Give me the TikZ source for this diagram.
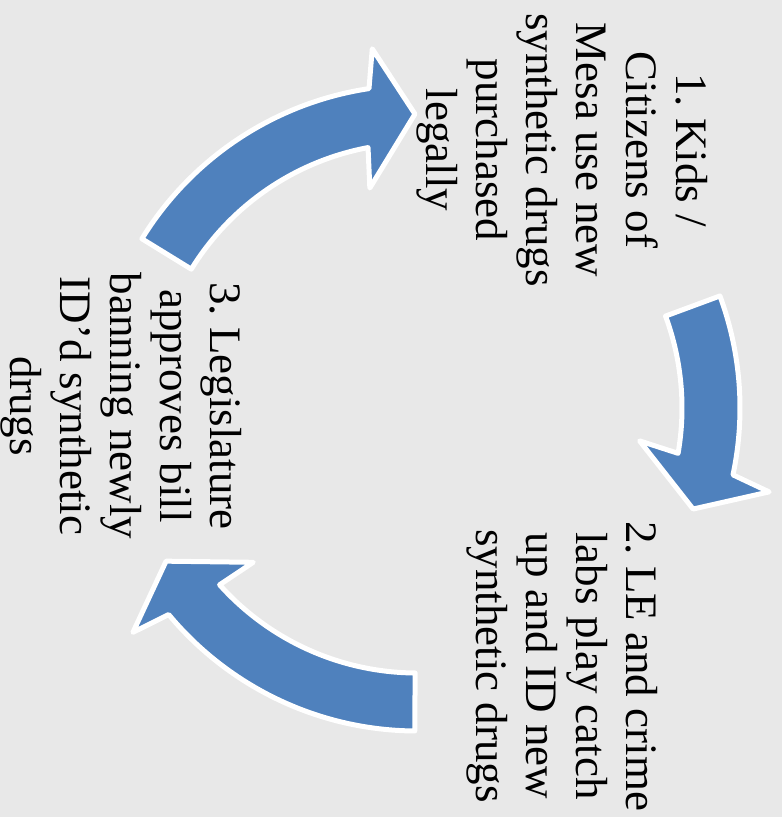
\documentclass[tikz,border=0pt]{standalone}
\usepackage{fontspec}
\setmainfont{Liberation Serif}
\usepackage{xcolor}
\usepackage{tikz}
\usetikzlibrary{calc}
\definecolor{cyclebg}{RGB}{232,232,232}
\definecolor{cycleblue}{RGB}{79,129,189}
\tikzset{
  cyclearr/.style={fill=cycleblue,draw=white,line width=5pt,line join=round},
  cyclelab/.style={rotate=-90,align=center,inner sep=0pt,anchor=north,
    font=\fontsize{45}{50}\selectfont\frenchspacing}
}
% tail angle, neck angle, tip angle (round the cycle centre)
\newcommand\cyclearrow[3]{%
  \filldraw[cyclearr] (#1:323) arc[start angle=#1,end angle=#2-1.05,radius=323]
    -- (#2-2.5:362) -- (#3:294) -- (#2+2.5:225) -- (#2+1.05:265)
    arc[start angle=#2+1.05,end angle=#1,radius=265] -- cycle;}

\begin{document}
\begin{tikzpicture}[x=1pt,y=1pt]
  \useasboundingbox (0,0) rectangle (782,-817);
  \fill[cyclebg] (0,0) rectangle (782,-817);
  \coordinate (ctr) at (417,-408);
  \begin{scope}[shift={(ctr)}]
    \cyclearrow{148.4}{99.6}{90.4}
    \cyclearrow{20.3}{-10.9}{-20.1}
    \cyclearrow{269.6}{220.8}{211.4}
  \end{scope}
  \node[cyclelab] (kids) at (708,-150) {1. Kids /\\Citizens of\\Mesa use new\\synthetic drugs\\purchased\\legally};
  \node[cyclelab] (labs) at (658,-666) {2. LE and crime\\labs play catch\\up and ID new\\synthetic drugs};
  \node[cyclelab] (bill) at (242,-406) {3. Legislature\\approves bill\\banning newly\\ID’d synthetic\\drugs};
\end{tikzpicture}
\end{document}
